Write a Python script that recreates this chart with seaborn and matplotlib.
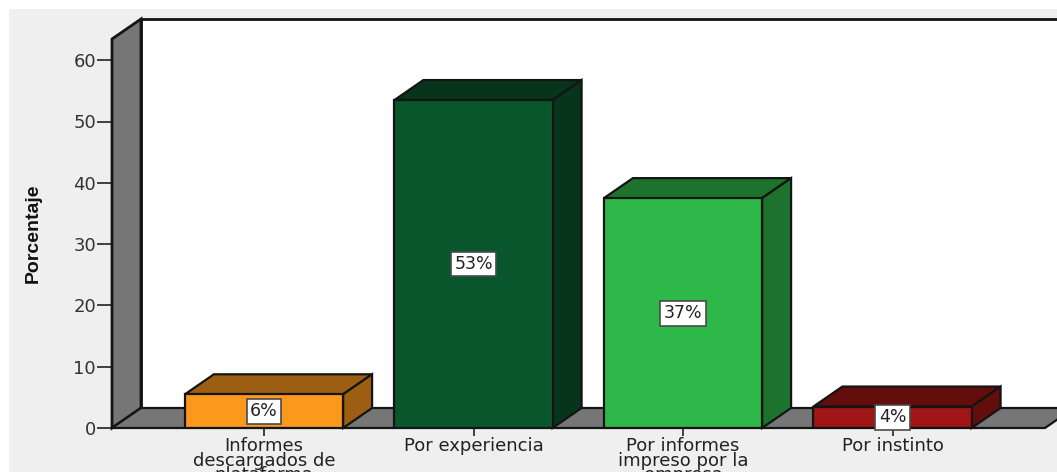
import matplotlib
matplotlib.use("Agg")
import matplotlib.pyplot as plt
import matplotlib.colors as mcolors
from matplotlib.patches import Polygon, Rectangle
import pandas as pd
import seaborn as sns

# values
fuentes = ["Informes\ndescargados de\nplataforma", "Por experiencia",
           "Por informes\nimpreso por la\nempresa", "Por instinto"]
porcentajes = [5.5, 53.5, 37.5, 3.5]
etiquetas = ["6%", "53%", "37%", "4%"]
colores = ["#fb991c", "#0a562c", "#2eb84a", "#a01515"]
yticks = [0, 10, 20, 30, 40, 50, 60]

W, H = 1057, 472
df = pd.DataFrame({"fuente": fuentes, "porcentaje": porcentajes})

sns.set_style("white")
fig = plt.figure(figsize=(W / 100, H / 100), dpi=100, facecolor="white")
fig.add_artist(Rectangle((9 / W, 0), 1 - 9 / W, 1 - 9 / H, transform=fig.transFigure,
                         facecolor="#efefef", edgecolor="none", zorder=-5))

# front plane of the fake 3D box
ax = fig.add_axes([112 / W, 1 - 428 / H, (1045 - 112) / W, (428 - 39) / H])
ax.patch.set_visible(False)

sns.barplot(data=df, x="fuente", y="porcentaje", hue="fuente", palette=colores,
            saturation=1, width=0.755, edgecolor="#141414", linewidth=1.6,
            legend=False, ax=ax, zorder=3)

ax.set_xlim((112 - 264) / 209.5, (1045 - 264) / 209.5)
ax.set_ylim(0, (428 - 39) / 6.13)
x0, x1 = ax.get_xlim()
y0, y1 = ax.get_ylim()

# depth of the box in data units
dx = 29 * (x1 - x0) / (1045 - 112)
dy = 20 * (y1 - y0) / (428 - 39)


def cara(puntos, color, z, lw=1.6):
    ax.add_patch(Polygon(puntos, closed=True, facecolor=color, edgecolor="#141414",
                         linewidth=lw, clip_on=False, zorder=z, joinstyle="miter"))


# back panel, wall, floor
cara([(x0 + dx, y0 + dy), (x0 + dx, y1 + dy), (x1 + dx, y1 + dy), (x1 + dx, y0 + dy)], "white", 0, 2)
cara([(x0, y0), (x0, y1), (x0 + dx, y1 + dy), (x0 + dx, y0 + dy)], "#767676", 1, 2)
cara([(x0, y0), (x0 + dx, y0 + dy), (x1 + dx, y0 + dy), (x1, y0)], "#767676", 1)

# top and side of each bar, labels in the middle
for bar, color, etiqueta in zip(ax.patches[:len(fuentes)], colores, etiquetas):
    izq, der = bar.get_x(), bar.get_x() + bar.get_width()
    alto = bar.get_height()
    oscuro = tuple(c * 0.62 for c in mcolors.to_rgb(color))
    cara([(izq, alto), (izq + dx, alto + dy), (der + dx, alto + dy), (der, alto)], oscuro, 2)
    cara([(der, 0), (der, alto), (der + dx, alto + dy), (der + dx, dy)], oscuro, 2)
    ax.text((izq + der) / 2, alto / 2, etiqueta, ha="center", va="center", fontsize=12.5,
            color="#222222", zorder=5, family="DejaVu Sans",
            bbox=dict(boxstyle="square,pad=0.2", facecolor="white",
                      edgecolor="#4a4a4a", linewidth=1.2))

for lado in ax.spines.values():
    lado.set_visible(False)

ax.set_yticks(yticks)
ax.tick_params(axis="y", length=10.5, width=1.2, color="#222222", labelsize=13,
               labelcolor="#333333", pad=1, left=True)
ax.tick_params(axis="x", length=6, width=1.2, color="#222222", labelsize=13,
               labelcolor="#222222", pad=0.5, bottom=True)
ax.set_xlabel("")
for t in ax.get_xticklabels():
    t.set_linespacing(0.76)

ax.set_ylabel("Porcentaje", fontsize=14, fontweight="bold", family="Liberation Sans",
              color="#111111")
ax.yaxis.set_label_coords(-0.0755, 0.5)

fig.savefig("out.png", dpi=100, facecolor=fig.get_facecolor())
